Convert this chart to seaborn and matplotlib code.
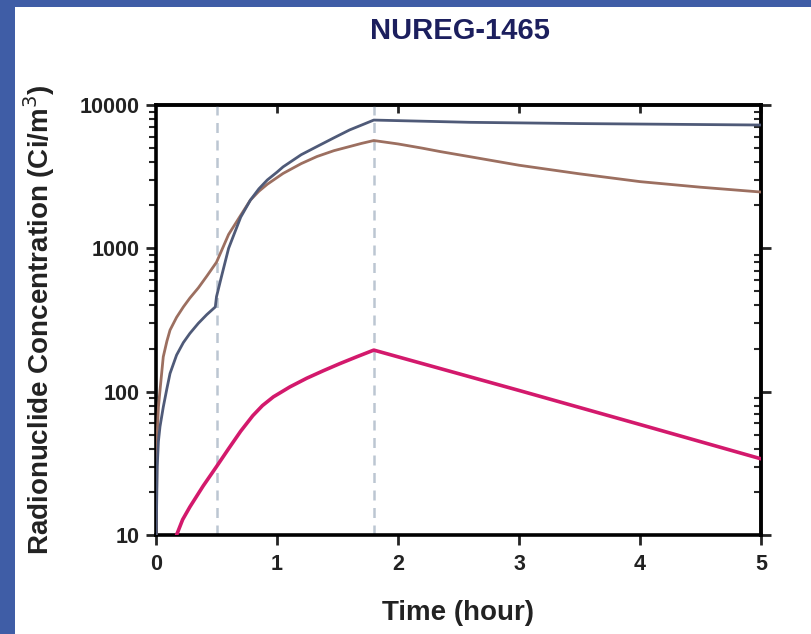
import numpy as np
import pandas as pd
import matplotlib
matplotlib.use("Agg")
import matplotlib.pyplot as plt
import seaborn as sns
from matplotlib.patches import Rectangle
from matplotlib.ticker import LogLocator, NullFormatter, FixedLocator

# ---- data ----
title = "NUREG-1465"
x_label = "Time (hour)"
y_label = "Radionuclide Concentration (Ci/m$^3$)"

t_blue = [0.0, 0.01, 0.02, 0.033, 0.06, 0.09, 0.116, 0.17, 0.226, 0.28, 0.35, 0.42, 0.49,
          0.50, 0.54, 0.60, 0.70, 0.78, 0.85, 0.92, 1.0, 1.05, 1.2, 1.33, 1.47, 1.60, 1.70, 1.80,
          2.6, 3.5, 5.0]
v_blue = [8, 30, 45, 57, 78, 105, 134, 180, 220, 255, 300, 345, 390,
          460, 630, 1000, 1650, 2170, 2600, 3000, 3400, 3700, 4500, 5130, 5900, 6700, 7250, 7850,
          7570, 7420, 7250]

t_brown = [0.0, 0.01, 0.02, 0.033, 0.06, 0.09, 0.116, 0.17, 0.226, 0.28, 0.35, 0.42, 0.50,
           0.55, 0.60, 0.70, 0.78, 0.85, 0.92, 1.05, 1.2, 1.33, 1.47, 1.60, 1.70, 1.80,
           2.0, 2.2, 2.35, 2.6, 3.0, 3.5, 4.0, 4.5, 5.0]
v_brown = [8, 50, 78, 102, 175, 225, 269, 330, 390, 450, 530, 640, 800,
           1000, 1250, 1700, 2170, 2500, 2800, 3330, 3900, 4370, 4800, 5130, 5400, 5650,
           5350, 5000, 4730, 4350, 3800, 3310, 2920, 2670, 2470]

t_mag = [0.17, 0.22, 0.28, 0.39, 0.50, 0.60, 0.70, 0.80, 0.88, 0.97, 1.107, 1.245, 1.383, 1.52,
         1.658, 1.80, 2.0, 3.0, 4.0, 5.0]
v_mag = [10, 12.8, 15.7, 22, 30, 40, 53, 68, 80, 92, 108, 124, 140, 157,
         175, 195, 175, 102, 59, 34]

dashed_x = [0.5, 1.8]
x_ticks = [0, 1, 2, 3, 4, 5]
y_ticks = [10, 100, 1000, 10000]
y_tick_labels = ["10", "100", "1000", "10000"]

c_blue = "#4f5a78"
c_brown = "#9c6f60"
c_mag = "#d3196c"

# ---- figure ----
sns.set_theme(style="white")
plt.rcParams["font.family"] = ["Liberation Sans", "DejaVu Sans"]

fig = plt.figure(figsize=(8.11, 6.34), dpi=100)
fig.patch.set_facecolor("#3f5da6")
fig.patches.append(Rectangle((15 / 811, 0), 1, 1 - 7 / 634, transform=fig.transFigure,
                             facecolor="white", edgecolor="none", zorder=-10))

ax = fig.add_axes([156 / 811, 1 - 535 / 634, (761 - 156) / 811, (535 - 105) / 634])
ax.set_facecolor("white")
ax.set_zorder(5)

for xv in dashed_x:
    ax.axvline(xv, color="#bcc6d2", lw=1.8, ls=(0, (4, 3)), zorder=1)

df_b = pd.DataFrame({"t": t_blue, "v": v_blue})
df_r = pd.DataFrame({"t": t_brown, "v": v_brown})
df_m = pd.DataFrame({"t": t_mag, "v": v_mag})
sns.lineplot(data=df_r, x="t", y="v", ax=ax, color=c_brown, lw=2.0, sort=False, zorder=3)
sns.lineplot(data=df_b, x="t", y="v", ax=ax, color=c_blue, lw=2.0, sort=False, zorder=3)
sns.lineplot(data=df_m, x="t", y="v", ax=ax, color=c_mag, lw=2.6, sort=False, zorder=3)

ax.set_yscale("log")
ax.set_xlim(0, 5)
ax.set_ylim(10, 10000)
ax.set_xticks(x_ticks)
ax.set_xticklabels([str(v) for v in x_ticks], fontsize=15.5, fontweight="bold", color="#222222")
ax.yaxis.set_major_locator(FixedLocator(y_ticks))
ax.set_yticklabels(y_tick_labels, fontsize=15.5, fontweight="bold", color="#222222")
ax.yaxis.set_minor_locator(LogLocator(base=10, subs=np.arange(2, 10)))
ax.yaxis.set_minor_formatter(NullFormatter())

for s in ax.spines.values():
    s.set_linewidth(2.6)
    s.set_color("black")

ax.tick_params(axis="x", which="major", direction="out", length=7, width=2, pad=7, bottom=True)
ax.tick_params(axis="y", which="major", direction="out", length=7, width=2, pad=5, left=True)
ax.tick_params(axis="y", which="minor", direction="out", length=5, width=1.5, left=True)

# right and top tick marks
axr = ax.secondary_yaxis("right")
axr.yaxis.set_major_locator(FixedLocator(y_ticks))
axr.yaxis.set_minor_locator(LogLocator(base=10, subs=np.arange(2, 10)))
axr.set_yticklabels([])
axr.yaxis.set_minor_formatter(NullFormatter())
axr.tick_params(which="major", direction="out", length=7, width=2)
axr.tick_params(which="minor", direction="in", length=5, width=1.5)
axr.spines["right"].set_linewidth(2.6)

axt = ax.secondary_xaxis("top")
axt.set_xticks(x_ticks[1:])
axt.set_xticklabels([])
axt.tick_params(which="major", direction="in", length=6, width=2)
axt.spines["top"].set_linewidth(2.6)

ax.set_xlabel(x_label, fontsize=20, fontweight="bold", color="#222222", labelpad=18)
ax.set_ylabel(y_label, fontsize=20, fontweight="bold", color="#222222", labelpad=16)

fig.text(460 / 811, 1 - 31 / 634, title, fontsize=21, fontweight="bold", color="#1c1f5e",
         ha="center", va="center")

fig.savefig("out.png", dpi=100, facecolor=fig.get_facecolor())
